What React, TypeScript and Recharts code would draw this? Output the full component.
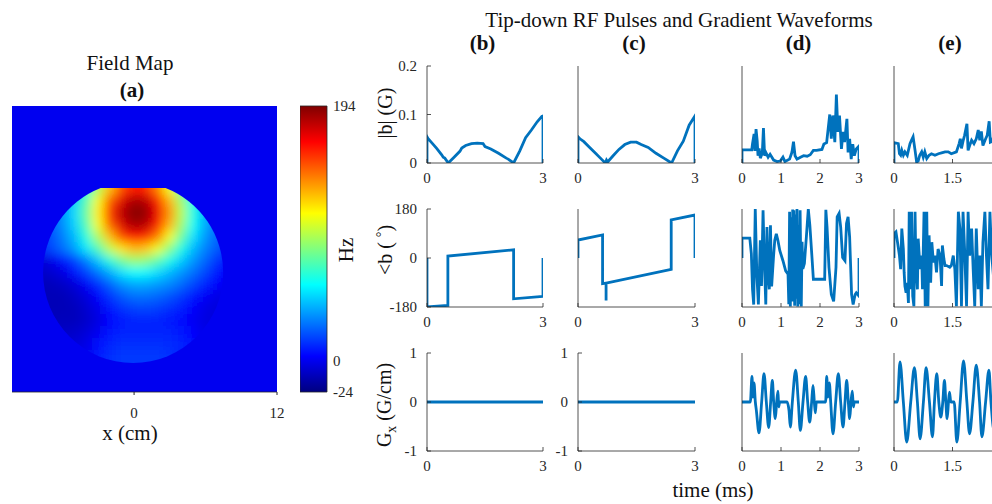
import React from "react";
import {
  LineChart,
  Line,
  XAxis,
  YAxis,
  ScatterChart,
  Scatter,
  ReferenceArea,
  ReferenceDot,
} from "recharts";

const SERIF = '"Liberation Serif", "Times New Roman", Times, serif';
const AXIS = "#262626";
const BLUE = "#0072BD";

// ---------- (a) field map, Hz on a 1 cm grid ----------
const fieldX = [-8, -7, -6, -5, -4, -3, -2, -1, 0, 1, 2, 3, 4, 5, 6, 7, 8];
const fieldY = [6, 5, 4, 3, 2, 1, 0, -1, -2, -3, -4, -5, -6, -7, -8, -9, -10];
const fieldHz = [
  [13, 20, 30, 43, 64, 94, 126, 151, 163, 160, 140, 110, 78, 52, 36, 25, 16],
  [13, 20, 30, 43, 64, 94, 126, 151, 163, 160, 140, 110, 78, 52, 36, 25, 16],
  [14, 22, 33, 48, 74, 110, 147, 173, 186, 182, 162, 129, 92, 60, 40, 27, 18],
  [14, 23, 34, 50, 79, 115, 156, 182, 193, 190, 170, 136, 97, 63, 41, 28, 18],
  [14, 22, 33, 48, 74, 110, 147, 174, 186, 182, 162, 129, 92, 60, 40, 27, 18],
  [13, 20, 30, 43, 65, 95, 126, 153, 164, 160, 141, 110, 80, 52, 36, 25, 16],
  [11, 18, 26, 37, 53, 74, 99, 118, 128, 125, 109, 87, 63, 43, 31, 22, 14],
  [-6, -2, 5, 16, 30, 46, 65, 82, 91, 88, 77, 62, 47, 35, 25, 14, 8],
  [-9, -7, -3, 6, 16, 28, 40, 52, 58, 57, 51, 43, 35, 27, 18, 8, 4],
  [-11, -11, -9, -5, 2, 12, 24, 34, 39, 39, 36, 32, 26, 18, 10, 3, 0],
  [-12, -12, -12, -9, -4, 4, 14, 22, 27, 27, 25, 21, 15, 8, 2, -2, -3],
  [-12, -12, -12, -11, -7, -1, 8, 14, 17, 18, 16, 13, 9, 3, -2, -4, -4],
  [-11, -11, -11, -11, -8, -3, 4, 8, 11, 11, 10, 8, 5, 1, -3, -4, -4],
  [-9, -9, -9, -8, -5, 0, 7, 10, 11, 11, 11, 10, 8, 3, -2, -3, -3],
  [-6, -6, -6, -5, -2, 5, 11, 13, 13, 13, 13, 12, 10, 5, 0, -2, -2],
  [-4, -4, -4, -3, 0, 8, 13, 15, 15, 15, 15, 14, 11, 6, 2, 0, 0],
  [-4, -4, -4, -3, 0, 8, 13, 15, 15, 15, 15, 14, 11, 6, 2, 0, 0],
];
const hzRange: [number, number] = [-24, 194];
const hzTicks = [-24, 0, 194];
const fieldXDomain: [number, number] = [-10.25, 12];
const fieldYDomain: [number, number] = [-12, 12];
const fieldXTicks = [0, 12];
const fieldYTicks = [-12, 0, 12];
// outline of the object in cm (ellipse with a flat top)
const fieldOutline = { cx: -0.08, cy: -1.97, rx: 7.56, ry: 7.6, top: 5.12 };

// ---------- RF pulses and gradients (time in ms) ----------
const bMagT = [0, 0, 0.03, 0.12, 0.25, 0.38, 0.42, 0.46, 0.55, 0.7, 0.85, 0.9, 1.0, 1.15, 1.3, 1.45, 1.5, 1.65, 1.85, 2.05, 2.1, 2.24, 2.4, 2.55, 2.7, 2.85, 2.97, 3.0, 3.0];
const bMagV = [0, 0.054, 0.05, 0.042, 0.03, 0.017, 0.012, 0.01, 0, 0.012, 0.024, 0.031, 0.036, 0.04, 0.041, 0.04, 0.034, 0.029, 0.02, 0.01, 0.008, 0, 0.025, 0.052, 0.068, 0.085, 0.096, 0.097, 0];
const cMagT = [0, 0, 0.05, 0.15, 0.3, 0.45, 0.6, 0.7, 0.73, 0.76, 0.9, 1.05, 1.2, 1.35, 1.5, 1.62, 1.8, 2.0, 2.2, 2.4, 2.55, 2.7, 2.85, 3.0, 3.0];
const cMagV = [0, 0.054, 0.05, 0.044, 0.032, 0.02, 0.008, 0, 0.006, 0.002, 0.015, 0.028, 0.038, 0.043, 0.043, 0.038, 0.032, 0.02, 0.01, 0, 0.025, 0.045, 0.078, 0.097, 0];
const dMagT = [
  0, 0, 0.25, 0.27, 0.31, 0.33, 0.36, 0.39, 0.41, 0.44,
  0.47, 0.52, 0.55, 0.58, 0.61, 0.67, 0.72, 0.81, 0.9, 0.98,
  1.05, 1.1, 1.15, 1.22, 1.28, 1.32, 1.36, 1.41, 1.5, 1.58,
  1.67, 1.75, 1.83, 1.91, 2.05, 2.1, 2.17, 2.25, 2.29, 2.33,
  2.38, 2.42, 2.46, 2.5, 2.55, 2.59, 2.63, 2.69, 2.72, 2.76,
  2.8, 2.84, 2.88, 2.93, 3.0, 3.0,
];
const dMagV = [
  0, 0.027, 0.027, 0.04, 0.06, 0.025, 0.07, 0.045, 0.015, 0.03,
  0.01, 0.02, 0.072, 0.015, 0.022, 0.012, 0.018, 0.006, 0.003, 0.004,
  0.012, 0.003, 0.005, 0.008, 0.022, 0.044, 0.015, 0.008, 0.012, 0.015,
  0.014, 0.017, 0.026, 0.026, 0.028, 0.039, 0.042, 0.1, 0.05, 0.098,
  0.043, 0.141, 0.064, 0.098, 0.029, 0.064, 0.043, 0.091, 0.022, 0.05,
  0.008, 0.039, 0.015, 0.029, 0.035, 0,
];
const eMagT = [
  0, 0, 0.11, 0.14, 0.17, 0.2, 0.24, 0.28, 0.34, 0.41,
  0.45, 0.49, 0.54, 0.58, 0.62, 0.66, 0.71, 0.75, 0.79, 0.84,
  0.9, 0.96, 1.05, 1.14, 1.22, 1.31, 1.39, 1.47, 1.6, 1.67,
  1.7, 1.73, 1.77, 1.81, 1.87, 1.9, 1.94, 1.99, 2.05, 2.11,
  2.16, 2.2, 2.24, 2.28, 2.35, 2.39, 2.44, 2.47, 2.52, 2.6,
  2.7, 2.8, 2.9, 3, 3,
];
const eMagV = [
  0, 0.042, 0.04, 0.019, 0.016, 0.026, 0.016, 0.023, 0.016, 0.04,
  0.047, 0.054, 0.026, 0.002, 0.004, 0.016, 0.023, 0.012, 0.023, 0.009,
  0.016, 0.019, 0.016, 0.019, 0.021, 0.023, 0.023, 0.019, 0.023, 0.04,
  0.05, 0.03, 0.045, 0.057, 0.081, 0.026, 0.036, 0.047, 0.04, 0.05,
  0.068, 0.047, 0.065, 0.036, 0.05, 0.057, 0.086, 0.043, 0.045, 0.07,
  0.04, 0.06, 0.035, 0.04, 0,
];

const bPhaseT = [0, 0, 0.54, 0.54, 2.24, 2.24, 3.0, 3.0];
const bPhaseV = [0, -180, -174, 7, 30, -150, -141, 0];
const cPhaseT = [0, 0, 0.63, 0.63, 0.72, 0.72, 0.72, 2.39, 2.39, 3.0, 3.0];
const cPhaseV = [0, 66, 85, -94, -92, -156, -92, -42, 140, 158, 0];
const dPhaseT = [
  0, 0, 0.2, 0.24, 0.27, 0.3, 0.34, 0.38, 0.42, 0.47,
  0.5, 0.54, 0.57, 0.61, 0.64, 0.67, 0.7, 0.73, 0.76, 0.81,
  0.84, 0.88, 0.92, 0.97, 1.05, 1.12, 1.18, 1.2, 1.22, 1.24,
  1.26, 1.28, 1.3, 1.32, 1.33, 1.35, 1.37, 1.39, 1.41, 1.43,
  1.45, 1.47, 1.49, 1.52, 1.54, 1.56, 1.6, 1.65, 1.7, 1.74,
  1.8, 1.83, 2.12, 2.15, 2.18, 2.23, 2.29, 2.35, 2.41, 2.44,
  2.49, 2.53, 2.58, 2.64, 2.68, 2.72, 2.76, 2.81, 2.85, 2.9,
  2.93, 3.0, 3.0,
];
const dPhaseV = [
  0, 73, 73, 15, -115, -171, 180, -60, -171, 65,
  -103, 175, 2, -171, 114, -60, -115, 120, -104, 9,
  65, 89, 65, 27, -10, -47, -60, -170, 170, -178,
  150, -160, 178, -120, 175, -175, 160, -150, 180, -178,
  120, -170, 175, -178, 60, -40, -20, 77, 180, 120,
  -10, -78, -78, 177, 115, -35, -134, -159, -35, 151,
  164, 114, 2, -10, 127, 151, 77, -134, -171, -134,
  -128, -140, 0,
];
const ePhaseT = [
  0, 0, 0.05, 0.09, 0.14, 0.17, 0.2, 0.24, 0.26, 0.28,
  0.31, 0.34, 0.37, 0.39, 0.43, 0.45, 0.48, 0.51, 0.54, 0.56,
  0.6, 0.62, 0.67, 0.71, 0.73, 0.77, 0.8, 0.84, 0.87, 0.9,
  0.94, 0.97, 1.01, 1.05, 1.09, 1.13, 1.18, 1.22, 1.24, 1.28,
  1.31, 1.35, 1.43, 1.47, 1.52, 1.56, 1.6, 1.65, 1.69, 1.73,
  1.77, 1.81, 1.86, 1.9, 1.94, 1.99, 2.03, 2.07, 2.11, 2.16,
  2.2, 2.24, 2.28, 2.33, 2.37, 2.41, 2.46, 2.5, 2.6, 2.7,
  2.8, 2.9, 3,
];
const ePhaseV = [
  0, 89, 96, 58, 9, -41, 108, 33, -53, -103,
  -128, -91, -165, 170, -115, 170, -140, -177, 170, -16,
  -115, 71, -41, 9, -115, 170, -177, 170, -177, 83,
  -91, 58, -16, 9, -53, 33, 9, -103, 46, -4,
  -28, -28, -34, -28, 9, -41, -177, 170, 108, -177,
  170, 33, -177, 170, 9, 108, -41, -177, 108, -115,
  9, -177, 58, 170, 9, -115, 170, 20, -150, 120,
  -60, 90, 0,
];

const flatT = [0, 3];
const flatV = [0, 0];
const dGradT = [
  0, 0.214, 0.256, 0.282, 0.308, 0.342, 0.368, 0.436, 0.504, 0.564,
  0.624, 0.684, 0.735, 0.778, 0.812, 0.855, 0.889, 0.923, 0.94, 0.966,
  1.154, 1.205, 1.239, 1.291, 1.376, 1.444, 1.496, 1.564, 1.632, 1.684,
  1.735, 1.786, 1.821, 1.855, 1.88, 1.906, 2.145, 2.171, 2.205, 2.239,
  2.274, 2.333, 2.402, 2.47, 2.53, 2.59, 2.641, 2.684, 2.726, 2.761,
  2.795, 2.829, 2.855, 2.88, 3,
];
const dGradV = [
  0, 0, 0.52, 0.1, 0.39, 0, -0.17, -0.63, 0, 0.58,
  0, -0.52, 0, 0.44, 0, -0.34, 0, 0.22, -0.1, 0,
  0, -0.17, -0.51, 0, 0.65, 0, -0.58, 0, 0.52, 0,
  -0.41, 0, 0.34, 0, -0.22, 0, 0, 0.52, 0.1, 0.39,
  0, -0.65, 0, 0.58, 0, -0.51, 0, 0.44, 0, -0.34,
  0, 0.22, -0.1, 0, 0,
];
const eGradT = [
  0, 0.086, 0.154, 0.24, 0.326, 0.429, 0.523, 0.6, 0.669, 0.754,
  0.823, 0.909, 0.986, 1.037, 1.097, 1.149, 1.2, 1.251, 1.294, 1.329,
  1.363, 1.397, 1.423, 1.457, 1.543, 1.611, 1.697, 1.783, 1.869, 1.937,
  2.023, 2.109, 2.194, 2.254, 2.349, 2.434, 2.486, 2.57, 2.65, 2.72,
  2.79, 2.85, 2.9, 3,
];
const eGradV = [
  0, 0, 0.82, 0, -0.82, 0, 0.7, 0, -0.75, 0,
  0.7, 0, -0.71, 0, 0.58, 0, -0.31, 0, 0.44, 0,
  -0.34, 0, 0.2, 0, 0, -0.82, 0, 0.84, 0, -0.65,
  0, 0.75, 0, -0.71, 0, 0.65, 0, -0.6, 0, 0.45,
  0, -0.3, 0, 0,
];

const xTicksBC = [0, 3];
const xTicksD = [0, 1, 2, 3];
const xTicksE = [0, 1.5]; // the 3 ms tick of (e) falls outside the frame
const magTicks = [0, 0.1, 0.2];
const phaseTicks = [-180, 0, 180];
const gradTicks = [-1, 0, 1];

// ---------- colormap (jet) ----------
function jet(t: number) {
  const c = (v: number) => Math.round(255 * Math.min(1, Math.max(0, v)));
  return `rgb(${c(1.5 - Math.abs(4 * t - 3))},${c(1.5 - Math.abs(4 * t - 2))},${c(1.5 - Math.abs(4 * t - 1))})`;
}
const hzColor = (hz: number) => jet((hz - hzRange[0]) / (hzRange[1] - hzRange[0]));
const jetStops = [0, 0.125, 0.375, 0.625, 0.875, 1];

// layout of the field map plot area
const FM = { left: 12, top: 106, w: 265, h: 286 };
const cellW = FM.w / (fieldXDomain[1] - fieldXDomain[0]);
const cellH = FM.h / (fieldYDomain[1] - fieldYDomain[0]);

const fieldCells = fieldY.flatMap((y, r) => fieldX.map((x, c) => ({ x, y, hz: fieldHz[r][c] })));

const HeatCell = (p: any) => {
  const { cx, cy, payload } = p;
  if (cx == null || cy == null) return <g />;
  return (
    <rect
      x={cx - cellW / 2 - 0.5}
      y={cy - cellH / 2 - 0.5}
      width={cellW + 1}
      height={cellH + 1}
      fill={hzColor(payload.hz)}
    />
  );
};

const OutlineClip = (p: any) => {
  const { cx, cy } = p;
  const rx = fieldOutline.rx * cellW;
  const ry = fieldOutline.ry * cellH;
  const topY = cy - (fieldOutline.top - fieldOutline.cy) * cellH;
  return (
    <g>
      <defs>
        <clipPath id="fmTop">
          <rect x={cx - rx - 30} y={topY} width={2 * rx + 60} height={2 * ry + 60} />
        </clipPath>
        <clipPath id="fmClip" clipPath="url(#fmTop)">
          <ellipse cx={cx} cy={cy} rx={rx} ry={ry} />
        </clipPath>
      </defs>
    </g>
  );
};

const tickText = { fill: AXIS, fontSize: 15, fontFamily: SERIF };

function FieldMap() {
  return (
    <div className="fm-chart" style={{ position: "absolute", left: 0, top: 0 }}>
      <ScatterChart
        width={FM.left + FM.w + 20}
        height={FM.top + FM.h + 40}
        margin={{ top: FM.top, right: 20, bottom: 0, left: FM.left }}
      >
        <XAxis
          dataKey="x"
          type="number"
          domain={fieldXDomain}
          ticks={fieldXTicks}
          interval={0}
          allowDataOverflow
          height={40}
          tickSize={3}
          tickMargin={12}
          axisLine={{ stroke: AXIS, strokeWidth: 0.8 }}
          tickLine={{ stroke: AXIS }}
          tick={tickText}
        />
        <XAxis
          xAxisId="top"
          orientation="top"
          type="number"
          domain={fieldXDomain}
          ticks={[0]}
          interval={0}
          allowDataOverflow
          height={0}
          tickSize={3}
          tick={false}
          axisLine={false}
          tickLine={{ stroke: AXIS }}
        />
        <YAxis dataKey="y" type="number" domain={fieldYDomain} allowDataOverflow hide />
        <YAxis
          yAxisId="r"
          orientation="right"
          type="number"
          domain={fieldYDomain}
          ticks={fieldYTicks}
          interval={0}
          allowDataOverflow
          width={0}
          tickSize={3}
          tick={false}
          axisLine={{ stroke: AXIS, strokeWidth: 0.8 }}
          tickLine={{ stroke: AXIS }}
        />
        <ReferenceArea
          x1={fieldXDomain[0]}
          x2={fieldXDomain[1]}
          y1={fieldYDomain[0]}
          y2={fieldYDomain[1]}
          fill={hzColor(0)}
          fillOpacity={1}
          stroke="none"
        />
        <Scatter data={fieldCells} shape={HeatCell} isAnimationActive={false} />
        <ReferenceDot x={fieldOutline.cx} y={fieldOutline.cy} shape={OutlineClip} />
      </ScatterChart>
    </div>
  );
}

function Colorbar() {
  const data = [{ x: 0, hz: hzRange[0] }, { x: 1, hz: hzRange[1] }];
  return (
    <div style={{ position: "absolute", left: 300, top: FM.top - 10 }}>
      <LineChart width={27 + 50} height={FM.h + 20} data={data} margin={{ top: 10, right: 0, bottom: 10, left: 0 }}>
        <XAxis dataKey="x" type="number" domain={[0, 1]} hide />
        <YAxis
          orientation="right"
          type="number"
          domain={hzRange}
          ticks={hzTicks}
          interval={0}
          allowDataOverflow
          width={50}
          tickSize={0}
          tickMargin={6}
          axisLine={false}
          tickLine={false}
          tick={tickText}
        />
        <ReferenceArea
          x1={0}
          x2={1}
          y1={hzRange[0]}
          y2={hzRange[1]}
          fill="url(#jetBar)"
          fillOpacity={1}
          stroke={AXIS}
          strokeWidth={0.8}
        />
      </LineChart>
    </div>
  );
}

type PanelProps = {
  t: number[];
  v: number[];
  left: number;
  top: number;
  w: number;
  h: number;
  xTicks: number[];
  yDomain: [number, number];
  yTicks: number[];
  yLabels: boolean;
  curve?: "linear" | "monotone";
};

function Panel({ t, v, left, top, w, h, xTicks, yDomain, yTicks, yLabels, curve = "linear" }: PanelProps) {
  const data = t.map((tt, i) => ({ t: tt, v: v[i] }));
  const line = { stroke: AXIS, strokeWidth: 0.8 };
  return (
    <div style={{ position: "absolute", left: left - 40, top: top - 8 }}>
      <LineChart width={w + 52} height={h + 38} data={data} margin={{ top: 8, right: 12, bottom: 0, left: 0 }}>
        <XAxis
          dataKey="t"
          type="number"
          domain={[0, 3]}
          ticks={xTicks}
          interval={0}
          allowDataOverflow
          height={30}
          tickSize={-4}
          tickMargin={13}
          axisLine={line}
          tickLine={line}
          tick={tickText}
        />
        <XAxis
          xAxisId="top"
          orientation="top"
          type="number"
          domain={[0, 3]}
          ticks={xTicks}
          interval={0}
          allowDataOverflow
          height={0}
          tickSize={-4}
          tick={false}
          axisLine={line}
          tickLine={line}
        />
        <YAxis
          type="number"
          domain={yDomain}
          ticks={yTicks}
          interval={0}
          allowDataOverflow
          width={40}
          tickSize={-4}
          tickMargin={14}
          axisLine={line}
          tickLine={line}
          tick={yLabels ? tickText : false}
        />
        <YAxis
          yAxisId="r"
          orientation="right"
          type="number"
          domain={yDomain}
          ticks={yTicks}
          interval={0}
          allowDataOverflow
          width={0}
          tickSize={-4}
          tick={false}
          axisLine={line}
          tickLine={line}
        />
        <Line
          dataKey="v"
          type={curve}
          stroke={BLUE}
          strokeWidth={2.8}
          dot={false}
          activeDot={false}
          isAnimationActive={false}
        />
      </LineChart>
    </div>
  );
}

const COLS = [
  { left: 427, w: 116 },
  { left: 578, w: 117 },
  { left: 742, w: 117 },
  { left: 894, w: 117 },
];
const ROWS = [
  { top: 66, h: 97 },
  { top: 209, h: 98 },
  { top: 353, h: 98 },
];

export default function App() {
  const rows = [
    { domain: [0, 0.2] as [number, number], ticks: magTicks, labelCols: [0], series: [[bMagT, bMagV], [cMagT, cMagV], [dMagT, dMagV], [eMagT, eMagV]] },
    { domain: [-180, 180] as [number, number], ticks: phaseTicks, labelCols: [0], series: [[bPhaseT, bPhaseV], [cPhaseT, cPhaseV], [dPhaseT, dPhaseV], [ePhaseT, ePhaseV]] },
    { domain: [-1, 1] as [number, number], ticks: gradTicks, labelCols: [0, 1], series: [[flatT, flatV], [flatT, flatV], [dGradT, dGradV], [eGradT, eGradV]] },
  ];
  const colTicks = [xTicksBC, xTicksBC, xTicksD, xTicksE];
  const txt = { fontFamily: SERIF, fill: "#111" } as const;

  return (
    <div
      style={{
        position: "absolute",
        left: 0,
        top: 0,
        width: 992,
        height: 504,
        overflow: "hidden",
        background: "#fff",
        fontFamily: SERIF,
      }}
    >
      <style>{`.fm-chart .recharts-scatter{filter:url(#fmBlur);clip-path:url(#fmClip);}`}</style>
      <svg width={0} height={0} style={{ position: "absolute" }}>
        <defs>
          <linearGradient id="jetBar" x1="0" y1="1" x2="0" y2="0">
            {jetStops.map((s) => (
              <stop key={s} offset={s} stopColor={jet(s)} />
            ))}
          </linearGradient>
          <filter id="fmBlur" x="-20%" y="-20%" width="140%" height="140%">
            <feGaussianBlur stdDeviation={5.5} />
          </filter>
        </defs>
      </svg>

      <FieldMap />
      <Colorbar />

      {rows.map((row, ri) =>
        COLS.map((col, ci) => (
          <Panel
            key={`${ri}-${ci}`}
            t={row.series[ci][0]}
            v={row.series[ci][1]}
            left={col.left}
            top={ROWS[ri].top}
            w={col.w}
            h={ROWS[ri].h}
            xTicks={colTicks[ci]}
            yDomain={row.domain}
            yTicks={row.ticks}
            yLabels={row.labelCols.includes(ci)}
            curve={ri === 2 && ci >= 2 ? "monotone" : "linear"}
          />
        ))
      )}

      <svg width={992} height={504} style={{ position: "absolute", left: 0, top: 0, pointerEvents: "none" }}>
        <text x={130} y={70} textAnchor="middle" fontSize={21} {...txt}>Field Map</text>
        <text x={132} y={97} textAnchor="middle" fontSize={21} fontWeight="bold" {...txt}>(a)</text>
        <text x={130} y={440} textAnchor="middle" fontSize={21} {...txt}>x (cm)</text>
        <text transform="translate(353,250) rotate(-90)" textAnchor="middle" fontSize={21} {...txt}>Hz</text>

        <text x={679} y={27} textAnchor="middle" fontSize={21} {...txt}>Tip-down RF Pulses and Gradient Waveforms</text>
        {["(b)", "(c)", "(d)", "(e)"].map((s, i) => (
          <text key={s} x={[482.5, 634, 798.5, 950][i]} y={49.5} textAnchor="middle" fontSize={21} fontWeight="bold" {...txt}>
            {s}
          </text>
        ))}
        <text transform="translate(392,113) rotate(-90)" textAnchor="middle" fontSize={20} {...txt}>|b| (G)</text>
        <text transform="translate(392,250) rotate(-90)" textAnchor="middle" fontSize={20} {...txt}>
          {"<b ( "}
          <tspan dy={-6} fontSize={14}>°</tspan>
          <tspan dy={6}>)</tspan>
        </text>
        <text transform="translate(391,405) rotate(-90)" textAnchor="middle" fontSize={20} {...txt}>
          G<tspan dy={5} fontSize={14}>x</tspan>
          <tspan dy={-5}>{" (G/cm)"}</tspan>
        </text>
        <text x={713} y={497} textAnchor="middle" fontSize={21} {...txt}>time (ms)</text>
      </svg>
    </div>
  );
}
